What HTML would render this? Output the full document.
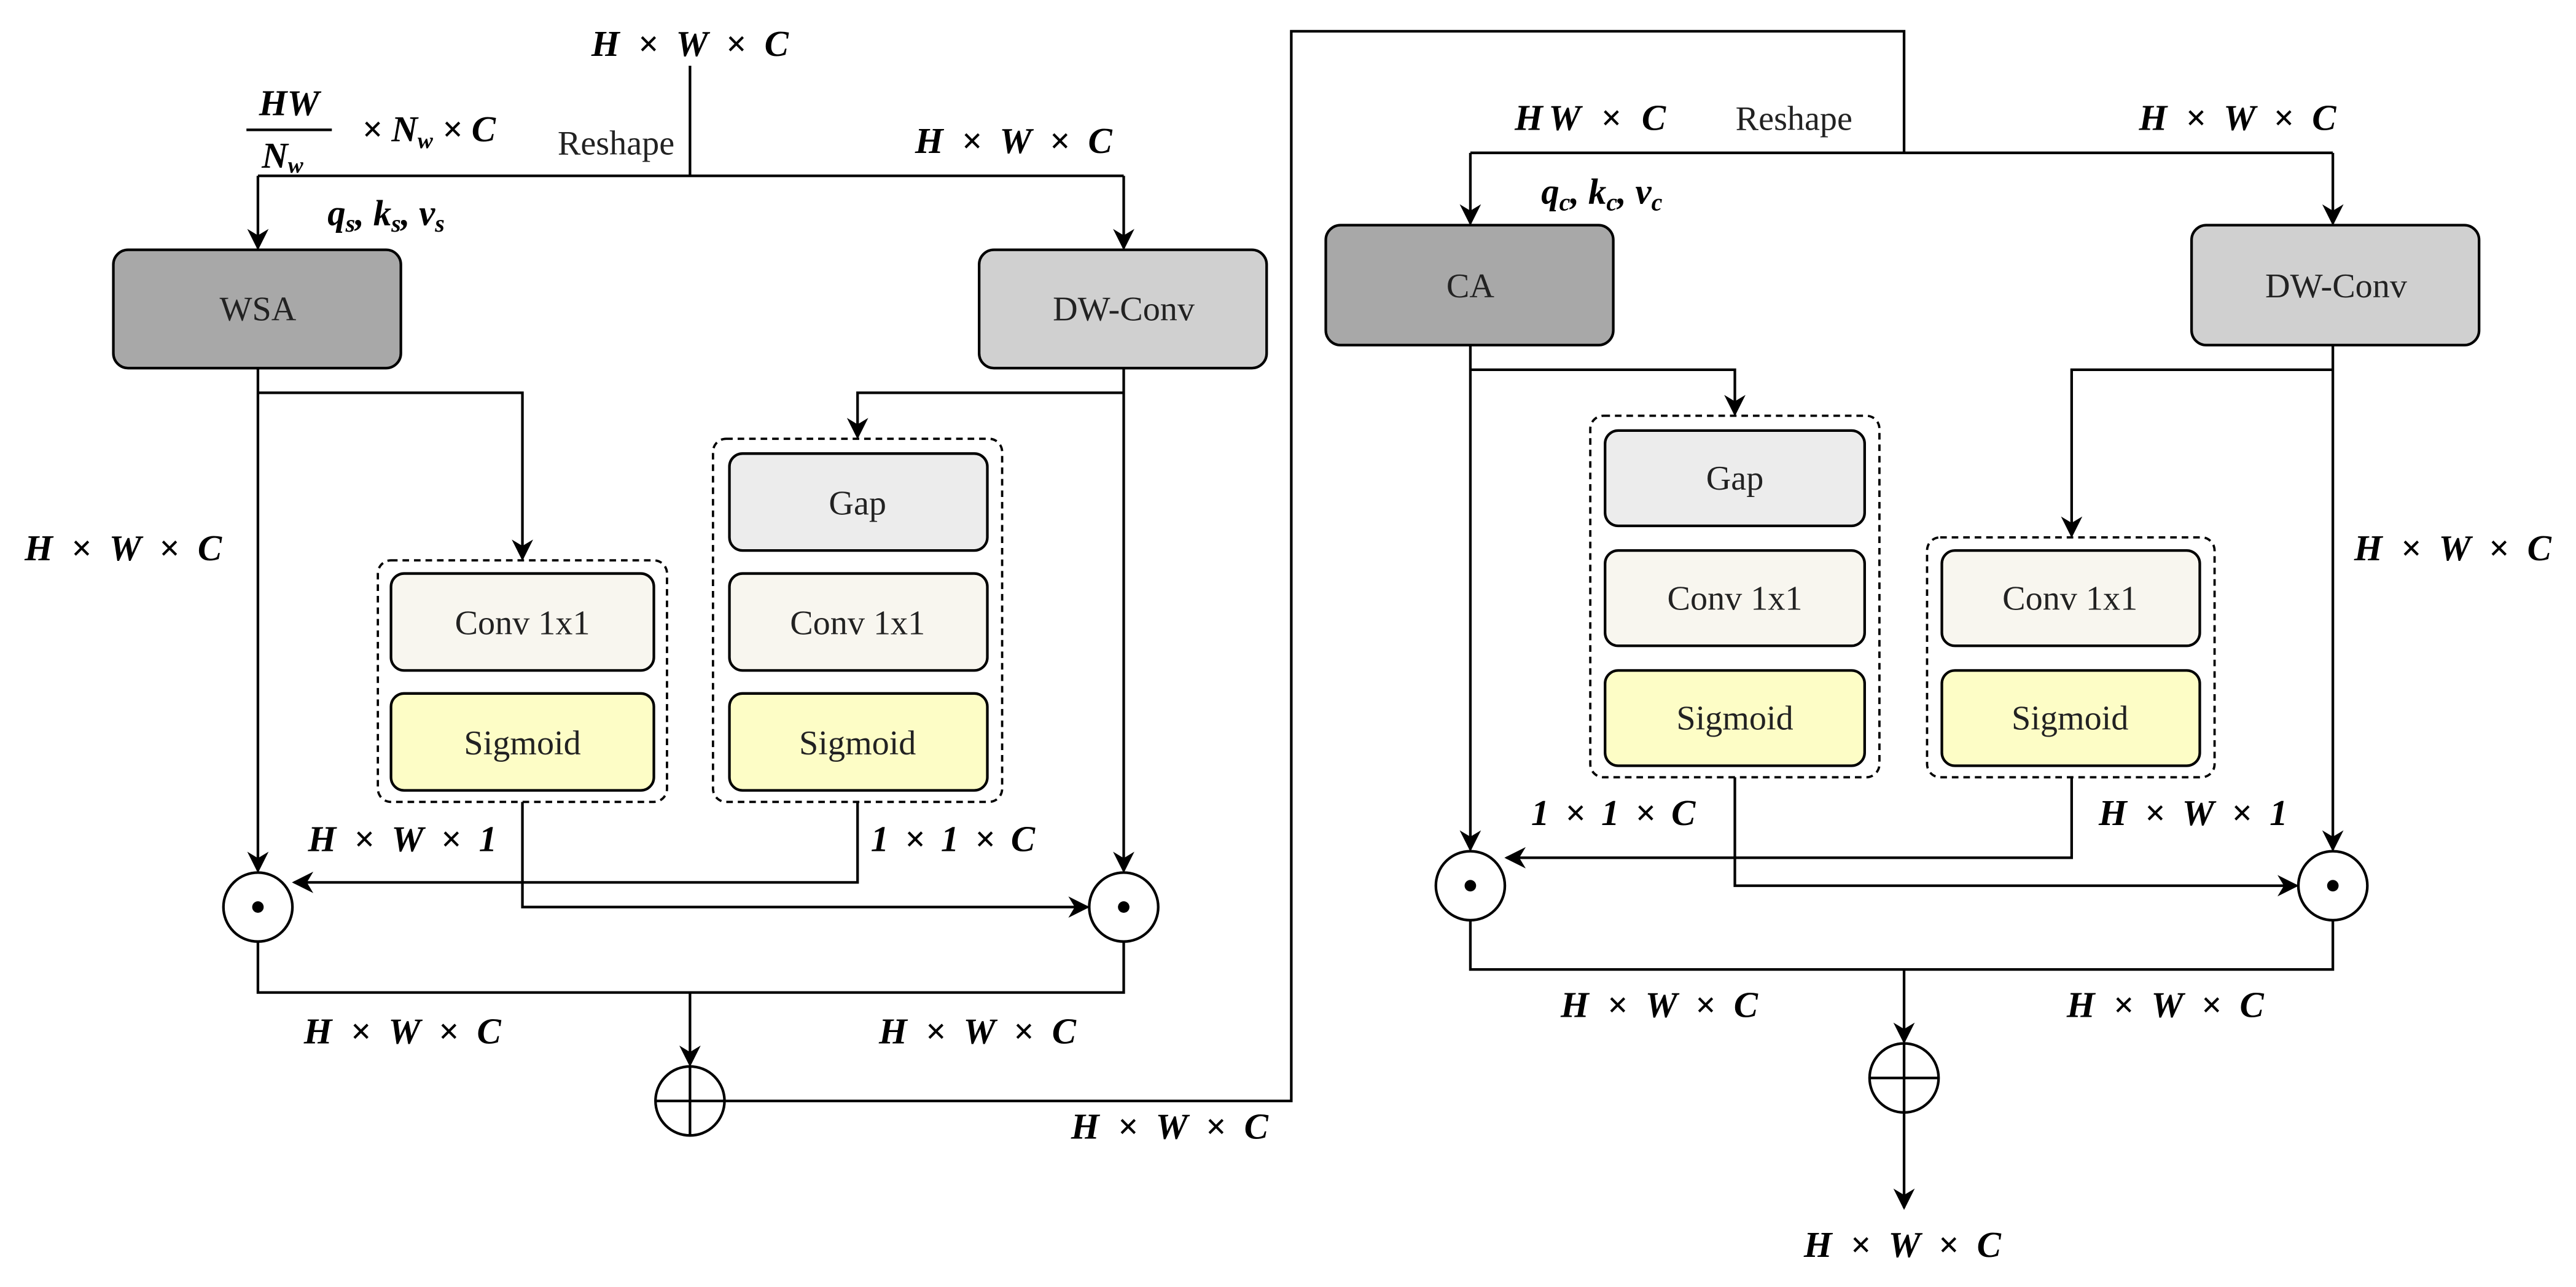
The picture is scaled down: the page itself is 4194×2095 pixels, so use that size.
<!DOCTYPE html>
<html><head><meta charset="utf-8"><style>html,body{margin:0;padding:0;background:#fff}svg{display:block}</style></head><body>
<svg width="4194" height="2095" viewBox="0 0 1568 783.2" xmlns="http://www.w3.org/2000/svg" font-family="Liberation Serif, serif">
<defs><marker id="a" viewBox="0 0 10 10" refX="9" refY="5" markerWidth="13" markerHeight="13" markerUnits="userSpaceOnUse" orient="auto"><path d="M0,0 L10,5 L0,10 L3,5 z" fill="#000"/></marker></defs>
<g fill="none" stroke="#000" stroke-width="1.6">
<path d="M420,40 V107"/>
<path d="M157,107 H684"/>
<path d="M157,107 V151" marker-end="url(#a)"/>
<path d="M684,107 V151" marker-end="url(#a)"/>
<path d="M157,224 V530" marker-end="url(#a)"/>
<path d="M157,239 H318 V340" marker-end="url(#a)"/>
<path d="M684,224 V530" marker-end="url(#a)"/>
<path d="M684,239 H522 V266" marker-end="url(#a)"/>
<path d="M318,488 V552 H662" marker-end="url(#a)"/>
<path d="M522,488 V537 H179" marker-end="url(#a)"/>
<path d="M157,573 V604 H684 V573"/>
<path d="M420,604 V648" marker-end="url(#a)"/>
<path d="M441,670 H786 V19 H1159 V93"/>
<path d="M895,93 H1420"/>
<path d="M895,93 V136" marker-end="url(#a)"/>
<path d="M1420,93 V136" marker-end="url(#a)"/>
<path d="M895,210 V517" marker-end="url(#a)"/>
<path d="M895,225 H1056 V252" marker-end="url(#a)"/>
<path d="M1420,210 V517" marker-end="url(#a)"/>
<path d="M1420,225 H1261 V326" marker-end="url(#a)"/>
<path d="M1056,473 V539 H1398" marker-end="url(#a)"/>
<path d="M1261,473 V522 H917" marker-end="url(#a)"/>
<path d="M895,560 V590 H1420 V560"/>
<path d="M1159,590 V634" marker-end="url(#a)"/>
<path d="M1159,677 V735" marker-end="url(#a)"/>
<circle cx="157" cy="552" r="21" fill="#fff"/><circle cx="684" cy="552" r="21" fill="#fff"/>
<circle cx="420" cy="670" r="21" fill="#fff"/><path d="M399,670 H441 M420,649 V691"/>
<circle cx="895" cy="539" r="21" fill="#fff"/><circle cx="1420" cy="539" r="21" fill="#fff"/>
<circle cx="1159" cy="656" r="21" fill="#fff"/><path d="M1138,656 H1180 M1159,635 V677"/>
<g stroke-dasharray="4,3" stroke-width="1.4">
<rect x="230" y="341" width="176" height="147" rx="8"/>
<rect x="434" y="267" width="176" height="221" rx="8"/>
<rect x="968" y="253" width="176" height="220" rx="8"/>
<rect x="1173" y="327" width="175" height="146" rx="8"/>
</g>
<rect x="69" y="152" width="175" height="72" rx="9" fill="#a8a8a8"/>
<rect x="596" y="152" width="175" height="72" rx="9" fill="#d0d0d0"/>
<rect x="807" y="137" width="175" height="73" rx="9" fill="#a8a8a8"/>
<rect x="1334" y="137" width="175" height="73" rx="9" fill="#d0d0d0"/>
<rect x="238" y="349" width="160" height="59" rx="8" fill="#f8f6ef"/>
<rect x="238" y="422" width="160" height="59" rx="8" fill="#fdfdc6"/>
<rect x="444" y="276" width="157" height="59" rx="8" fill="#ececec"/>
<rect x="444" y="349" width="157" height="59" rx="8" fill="#f8f6ef"/>
<rect x="444" y="422" width="157" height="59" rx="8" fill="#fdfdc6"/>
<rect x="977" y="262" width="158" height="58" rx="8" fill="#ececec"/>
<rect x="977" y="335" width="158" height="58" rx="8" fill="#f8f6ef"/>
<rect x="977" y="408" width="158" height="58" rx="8" fill="#fdfdc6"/>
<rect x="1182" y="335" width="157" height="58" rx="8" fill="#f8f6ef"/>
<rect x="1182" y="408" width="157" height="58" rx="8" fill="#fdfdc6"/>
</g>
<g fill="#000"><circle cx="157" cy="552" r="3.5"/><circle cx="684" cy="552" r="3.5"/><circle cx="895" cy="539" r="3.5"/><circle cx="1420" cy="539" r="3.5"/></g>
<g font-size="21" text-anchor="middle" fill="#222">
<text x="157" y="195">WSA</text><text x="684" y="195">DW-Conv</text>
<text x="895" y="181">CA</text><text x="1422" y="181">DW-Conv</text>
<text x="318" y="386">Conv 1x1</text><text x="318" y="459">Sigmoid</text>
<text x="522" y="313">Gap</text><text x="522" y="386">Conv 1x1</text><text x="522" y="459">Sigmoid</text>
<text x="1056" y="298">Gap</text><text x="1056" y="371">Conv 1x1</text><text x="1056" y="444">Sigmoid</text>
<text x="1260" y="371">Conv 1x1</text><text x="1260" y="444">Sigmoid</text>
<text x="375" y="94">Reshape</text><text x="1092" y="79">Reshape</text>
</g>
<g font-size="22" font-style="italic" font-weight="bold" text-anchor="middle" lengthAdjust="spacing">
<text x="420" y="34" textLength="120">H × W × C</text>
<text x="617" y="93" textLength="120">H × W × C</text>
<text x="75" y="341" textLength="120">H × W × C</text>
<text x="245" y="518" textLength="115">H × W × 1</text>
<text x="580" y="518" textLength="100">1 × 1 × C</text>
<text x="245" y="635" textLength="120">H × W × C</text>
<text x="595" y="635" textLength="120">H × W × C</text>
<text x="712" y="693" textLength="120">H × W × C</text>
<text x="968" y="79" textLength="92">HW × C</text>
<text x="1362" y="79" textLength="120">H × W × C</text>
<text x="1493" y="341" textLength="120">H × W × C</text>
<text x="982" y="502" textLength="100">1 × 1 × C</text>
<text x="1335" y="502" textLength="115">H × W × 1</text>
<text x="1010" y="619" textLength="120">H × W × C</text>
<text x="1318" y="619" textLength="120">H × W × C</text>
<text x="1158" y="765" textLength="120">H × W × C</text>
<text x="235" y="137">q<tspan font-size="15" dy="4">s</tspan><tspan dy="-4">, k</tspan><tspan font-size="15" dy="4">s</tspan><tspan dy="-4">, ν</tspan><tspan font-size="15" dy="4">s</tspan></text>
<text x="975" y="124">q<tspan font-size="15" dy="4">c</tspan><tspan dy="-4">, k</tspan><tspan font-size="15" dy="4">c</tspan><tspan dy="-4">, ν</tspan><tspan font-size="15" dy="4">c</tspan></text>
<text x="176" y="70">HW</text>
<text x="172" y="102">N<tspan font-size="14" dy="3">w</tspan></text>
<text x="261" y="86">× N<tspan font-size="14" dy="4">w</tspan><tspan dy="-4"> × C</tspan></text>
</g>
<path d="M150,79 H202" stroke="#000" stroke-width="1.6"/>
</svg>
</body></html>
